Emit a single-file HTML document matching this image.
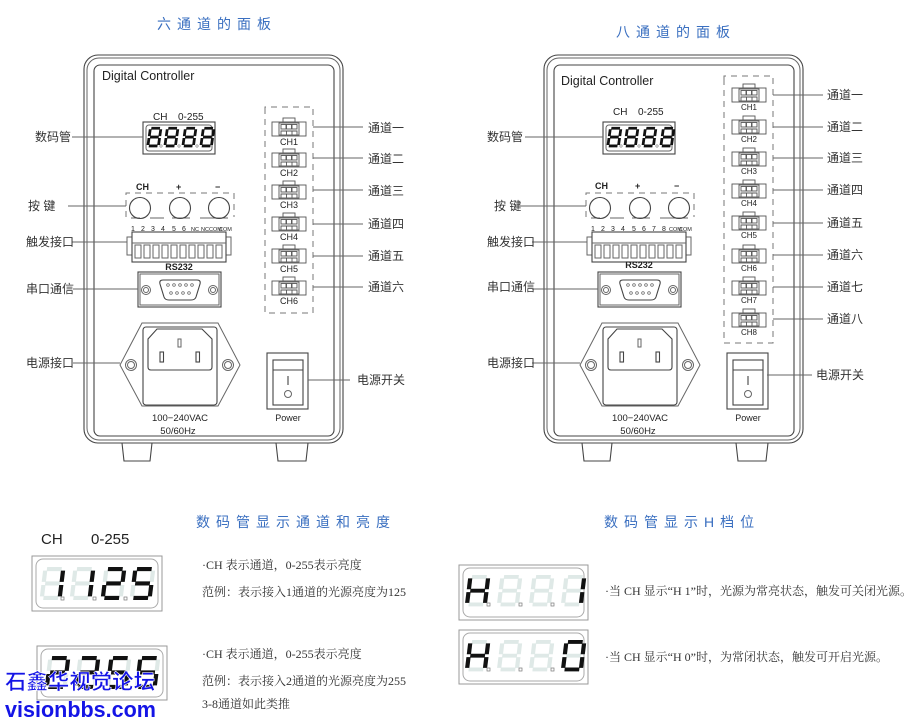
<!DOCTYPE html>
<html><head><meta charset="utf-8"><style>
html,body{margin:0;padding:0;background:#fff;}
svg{display:block;}
.ln{fill:none;stroke:#444;stroke-width:1.1}
.lt{fill:none;stroke:#666;stroke-width:1}
.dash{fill:none;stroke:#777;stroke-width:1;stroke-dasharray:6 5}
.t{font-family:"Liberation Sans","Noto Sans CJK SC",sans-serif;fill:#222}
.cn{font-family:"Liberation Sans","Noto Sans CJK SC",sans-serif;fill:#333;font-size:12px}
.sf{font-family:"Liberation Serif","Noto Serif CJK SC",serif;fill:#333;font-size:12px}
.ttl{font-family:"Liberation Sans","Noto Sans CJK SC",sans-serif;fill:#3a6fc0;font-size:14px;letter-spacing:6px}
.sg{fill:none;stroke-width:4;stroke-linecap:butt}
</style></head><body>
<svg width="922" height="721" viewBox="0 0 922 721" xmlns="http://www.w3.org/2000/svg">
<defs>
 <path id="sa" d="M4 2H18"/><path id="sb" d="M19.5 3.5V14.5"/><path id="sc" d="M19.5 17.5V28.5"/>
 <path id="sd" d="M4 30H18"/><path id="se" d="M2.5 17.5V28.5"/><path id="sf" d="M2.5 3.5V14.5"/><path id="sg" d="M4 16H18"/>
 <g id="d8"><use href="#sa"/><use href="#sb"/><use href="#sc"/><use href="#sd"/><use href="#se"/><use href="#sf"/><use href="#sg"/></g>
 <g id="conn" fill="#fff" stroke="#555" stroke-width="0.9">
  <rect x="-6" y="-4" width="12" height="4"/><rect x="-17" y="0" width="34" height="14"/>
  <rect x="-10" y="1" width="20" height="12"/>
  <rect x="-8" y="2.5" width="5" height="4.5"/><rect x="-2.5" y="2.5" width="5" height="4.5"/><rect x="3" y="2.5" width="5" height="4.5"/>
  <path d="M-8 12.5V9H8V12.5M-2.5 9V12.5M3 9V12.5"/>
 </g>
 <g id="panel">
  <rect x="84" y="55" width="259" height="388" rx="14" class="ln"/>
  <rect x="87" y="58" width="253" height="382" rx="12" class="lt"/>
  <rect x="94" y="65" width="240" height="371" rx="6" class="ln"/>
  <path d="M122 443L124 461H150L152 443M276 443L278 461H306L308 443" class="ln"/>
  <!-- display -->
  <rect x="143" y="122" width="72" height="32" class="ln"/>
  <rect x="146" y="125" width="66" height="26" rx="3" class="lt"/>
  <g stroke="#111" class="sg" style="stroke-width:4.5">
   <use href="#d8" transform="translate(149,127) skewX(-8) scale(0.62,0.63)"/>
   <use href="#d8" transform="translate(166,127) skewX(-8) scale(0.62,0.63)"/>
   <use href="#d8" transform="translate(184,127) skewX(-8) scale(0.62,0.63)"/>
   <use href="#d8" transform="translate(202,127) skewX(-8) scale(0.62,0.63)"/>
  </g>
  <g fill="none" stroke="#777" stroke-width="0.6"><circle cx="161" cy="146" r="1.2"/><circle cx="179" cy="146" r="1.2"/><circle cx="197" cy="146" r="1.2"/></g>
  <!-- buttons -->
  <path d="M126 217V193H234V217" class="dash"/>
  <path d="M131 218H140M150 218H164M172 218H190M200 218H228" class="lt"/>
  <circle cx="140" cy="208" r="10.5" class="ln"/><circle cx="180" cy="208" r="10.5" class="ln"/><circle cx="219" cy="208" r="10.5" class="ln"/>
  <!-- terminal -->
  <rect x="127" y="237" width="5" height="18" class="lt"/><rect x="226" y="237" width="5" height="18" class="lt"/>
  <rect x="132" y="232" width="94" height="30" class="ln"/>
  <path d="M132 243H226" class="lt"/>
  <g class="lt">
   <rect x="135" y="245" width="6" height="13"/><rect x="144" y="245" width="6" height="13"/><rect x="153" y="245" width="6" height="13"/><rect x="162" y="245" width="6" height="13"/><rect x="171" y="245" width="6" height="13"/><rect x="180" y="245" width="6" height="13"/><rect x="189" y="245" width="6" height="13"/><rect x="198" y="245" width="6" height="13"/><rect x="207" y="245" width="6" height="13"/><rect x="216" y="245" width="6" height="13"/>
  </g>
  <!-- DB9 -->
  <rect x="138" y="272" width="83" height="35" class="ln"/>
  <rect x="140" y="274" width="79" height="31" class="lt"/>
  <circle cx="146" cy="290" r="4.5" class="lt"/><circle cx="146" cy="290" r="2.5" class="lt"/>
  <circle cx="213" cy="290" r="4.5" class="lt"/><circle cx="213" cy="290" r="2.5" class="lt"/>
  <path d="M163 280H197Q201 280 200 284L196 297Q195 300 191 300H169Q165 300 164 297L160 284Q159 280 163 280Z" class="ln"/>
  <g fill="none" stroke="#555" stroke-width="0.7"><circle cx="168" cy="285" r="1.3"/><circle cx="174" cy="285" r="1.3"/><circle cx="180" cy="285" r="1.3"/><circle cx="186" cy="285" r="1.3"/><circle cx="192" cy="285" r="1.3"/><circle cx="171" cy="293" r="1.3"/><circle cx="177" cy="293" r="1.3"/><circle cx="183" cy="293" r="1.3"/><circle cx="189" cy="293" r="1.3"/></g>
  <!-- inlet -->
  <path d="M142 323H218L240 365L218 406H142L120 365Z" class="lt"/>
  <rect x="143" y="327" width="74" height="78" rx="3" class="ln"/>
  <path d="M157 329H202L212 339V367Q212 370 209 370H151Q148 370 148 367V339Z" class="ln"/>
  <rect x="178" y="339" width="3" height="8" class="lt"/><rect x="160" y="352" width="3.5" height="10" class="ln"/><rect x="196" y="352" width="3.5" height="10" class="ln"/>
  <circle cx="131" cy="365" r="5.5" class="lt"/><circle cx="131" cy="365" r="3.5" class="lt"/>
  <circle cx="228" cy="365" r="5.5" class="lt"/><circle cx="228" cy="365" r="3.5" class="lt"/>
  <!-- switch -->
  <rect x="267" y="353" width="41" height="56" class="ln"/>
  <rect x="273" y="360" width="30" height="45" class="ln"/>
  <path d="M273 370H303M288 376V385" class="ln"/>
  <circle cx="288" cy="394" r="3.5" class="lt"/>
 </g>
</defs>

<!-- titles -->
<text x="157" y="29" class="ttl">六通道的面板</text>
<text x="616" y="37" class="ttl">八通道的面板</text>

<!-- LEFT PANEL -->
<use href="#panel"/>
<text x="102" y="80" class="t" font-size="12.5">Digital Controller</text>
<text x="153" y="120" class="t" font-size="10">CH</text><text x="178" y="120" class="t" font-size="10">0-255</text>
<g class="t" font-size="9" font-weight="bold"><text x="136" y="190">CH</text><text x="176" y="190">+</text><text x="215" y="190">−</text></g>
<g class="t" font-size="7"><text x="131" y="231">1</text><text x="141" y="231">2</text><text x="151" y="231">3</text><text x="161" y="231">4</text><text x="172" y="231">5</text><text x="182" y="231">6</text><text x="191" y="231" font-size="5.5">NC</text><text x="201" y="231" font-size="5.5">NC</text><text x="209" y="231" font-size="5.5">COM</text><text x="219" y="231" font-size="5.5">COM</text></g>
<text x="179" y="270" class="t" font-size="9" font-weight="bold" text-anchor="middle">RS232</text>
<text x="180" y="421" class="t" font-size="9.5" text-anchor="middle">100−240VAC</text>
<text x="178" y="434" class="t" font-size="9.5" text-anchor="middle">50/60Hz</text>
<text x="288" y="421" class="t" font-size="9" text-anchor="middle">Power</text>
<path d="M265 112V107H313V313H265V112" class="dash"/>
<use href="#conn" x="289" y="122"/><use href="#conn" x="289" y="153"/><use href="#conn" x="289" y="185"/><use href="#conn" x="289" y="217"/><use href="#conn" x="289" y="249"/><use href="#conn" x="289" y="281"/>
<g class="t" font-size="9" text-anchor="middle"><text x="289" y="145">CH1</text><text x="289" y="176">CH2</text><text x="289" y="208">CH3</text><text x="289" y="240">CH4</text><text x="289" y="272">CH5</text><text x="289" y="304">CH6</text></g>
<g class="lt"><path d="M313 127H363M313 158H363M313 190H363M313 224H363M313 256H363M313 287H363M308 380H350"/>
<path d="M72 137H143M68 206H126M72 242H127M73 289H138M73 363H120"/></g>
<g class="cn"><text x="368" y="132">通道一</text><text x="368" y="163">通道二</text><text x="368" y="195">通道三</text><text x="368" y="228">通道四</text><text x="368" y="260">通道五</text><text x="368" y="291">通道六</text><text x="357" y="384">电源开关</text>
<text x="35" y="141">数码管</text><text x="28" y="210">按  键</text><text x="26" y="246">触发接口</text><text x="26" y="293">串口通信</text><text x="26" y="367">电源接口</text></g>

<!-- RIGHT PANEL -->
<use href="#panel" x="460"/>
<text x="561" y="85" class="t" font-size="12.5">Digital Controller</text>
<text x="613" y="115" class="t" font-size="10">CH</text><text x="638" y="115" class="t" font-size="10">0-255</text>
<g class="t" font-size="9" font-weight="bold"><text x="595" y="189">CH</text><text x="635" y="189">+</text><text x="674" y="189">−</text></g>
<g class="t" font-size="7"><text x="591" y="231">1</text><text x="601" y="231">2</text><text x="611" y="231">3</text><text x="621" y="231">4</text><text x="632" y="231">5</text><text x="642" y="231">6</text><text x="652" y="231">7</text><text x="662" y="231">8</text><text x="669" y="231" font-size="5.5">COM</text><text x="679" y="231" font-size="5.5">COM</text></g>
<text x="639" y="268" class="t" font-size="9" font-weight="bold" text-anchor="middle">RS232</text>
<text x="640" y="421" class="t" font-size="9.5" text-anchor="middle">100−240VAC</text>
<text x="638" y="434" class="t" font-size="9.5" text-anchor="middle">50/60Hz</text>
<text x="748" y="421" class="t" font-size="9" text-anchor="middle">Power</text>
<path d="M724 80V76H773V343H724V80" class="dash"/>
<use href="#conn" x="749" y="88"/><use href="#conn" x="749" y="120"/><use href="#conn" x="749" y="152"/><use href="#conn" x="749" y="184"/><use href="#conn" x="749" y="216"/><use href="#conn" x="749" y="249"/><use href="#conn" x="749" y="281"/><use href="#conn" x="749" y="313"/>
<g class="t" font-size="8" text-anchor="middle"><text x="749" y="110">CH1</text><text x="749" y="142">CH2</text><text x="749" y="174">CH3</text><text x="749" y="206">CH4</text><text x="749" y="238">CH5</text><text x="749" y="271">CH6</text><text x="749" y="303">CH7</text><text x="749" y="335">CH8</text></g>
<g class="lt"><path d="M773 95H823M773 127H823M773 158H823M773 190H823M773 223H823M773 255H823M773 287H823M773 319H823M767 375H812"/>
<path d="M525 137H603M514 206H586M532 242H587M532 289H598M532 363H580"/></g>
<g class="cn"><text x="827" y="99">通道一</text><text x="827" y="131">通道二</text><text x="827" y="162">通道三</text><text x="827" y="194">通道四</text><text x="827" y="227">通道五</text><text x="827" y="259">通道六</text><text x="827" y="291">通道七</text><text x="827" y="323">通道八</text><text x="816" y="379">电源开关</text>
<text x="487" y="141">数码管</text><text x="494" y="210">按  键</text><text x="487" y="246">触发接口</text><text x="487" y="291">串口通信</text><text x="487" y="367">电源接口</text></g>

<!-- BOTTOM LEFT -->
<text x="196" y="527" class="ttl">数码管显示通道和亮度</text>
<text x="41" y="544" class="t" font-size="15">CH</text><text x="91" y="544" class="t" font-size="15">0-255</text>
<rect x="32" y="556" width="130" height="55" fill="none" stroke="#999" stroke-width="1"/>
<rect x="36" y="559" width="122" height="49" rx="7" fill="none" stroke="#aaa" stroke-width="1"/>
<g class="sg" stroke="#dfe9e7"><use href="#d8" transform="translate(43,567) skewX(-7) scale(1.05,1.03)"/><use href="#d8" transform="translate(73,567) skewX(-7) scale(1.05,1.03)"/><use href="#d8" transform="translate(104,567) skewX(-7) scale(1.05,1.03)"/><use href="#d8" transform="translate(133,567) skewX(-7) scale(1.05,1.03)"/></g>
<g class="sg" stroke="#111"><g transform="translate(43,567) skewX(-7) scale(1.05,1.03)"><use href="#sb"/><use href="#sc"/></g>
<g transform="translate(73,567) skewX(-7) scale(1.05,1.03)"><use href="#sb"/><use href="#sc"/></g>
<g transform="translate(104,567) skewX(-7) scale(1.05,1.03)"><use href="#sa"/><use href="#sb"/><use href="#sg"/><use href="#se"/><use href="#sd"/></g>
<g transform="translate(133,567) skewX(-7) scale(1.05,1.03)"><use href="#sa"/><use href="#sf"/><use href="#sg"/><use href="#sc"/><use href="#sd"/></g></g>
<g fill="none" stroke="#777" stroke-width="0.7"><rect x="61" y="597" width="3" height="3"/><rect x="93" y="597" width="3" height="3"/><rect x="124" y="597" width="3" height="3"/></g>

<rect x="37" y="646" width="130" height="54" fill="none" stroke="#999" stroke-width="1"/>
<rect x="41" y="649" width="122" height="48" rx="7" fill="none" stroke="#aaa" stroke-width="1"/>
<g class="sg" stroke="#dfe9e7"><use href="#d8" transform="translate(48,656) skewX(-7) scale(1.05,1.03)"/><use href="#d8" transform="translate(78,656) skewX(-7) scale(1.05,1.03)"/><use href="#d8" transform="translate(109,656) skewX(-7) scale(1.05,1.03)"/><use href="#d8" transform="translate(138,656) skewX(-7) scale(1.05,1.03)"/></g>
<g class="sg" stroke="#111"><g transform="translate(48,656) skewX(-7) scale(1.05,1.03)"><use href="#sa"/><use href="#sb"/><use href="#sg"/><use href="#se"/><use href="#sd"/></g>
<g transform="translate(78,656) skewX(-7) scale(1.05,1.03)"><use href="#sa"/><use href="#sb"/><use href="#sg"/><use href="#se"/><use href="#sd"/></g>
<g transform="translate(109,656) skewX(-7) scale(1.05,1.03)"><use href="#sa"/><use href="#sf"/><use href="#sg"/><use href="#sc"/><use href="#sd"/></g>
<g transform="translate(138,656) skewX(-7) scale(1.05,1.03)"><use href="#sa"/><use href="#sf"/><use href="#sg"/><use href="#sc"/><use href="#sd"/></g></g>

<text x="202" y="569" class="sf">·CH 表示通道，0-255表示亮度</text>
<text x="202" y="596" class="sf">范例：表示接入1通道的光源亮度为125</text>
<text x="202" y="658" class="sf">·CH 表示通道，0-255表示亮度</text>
<text x="202" y="685" class="sf">范例：表示接入2通道的光源亮度为255</text>
<text x="202" y="708" class="sf">3-8通道如此类推</text>

<!-- BOTTOM RIGHT -->
<text x="604" y="527" class="ttl">数码管显示H档位</text>
<rect x="459" y="565" width="129" height="55" fill="none" stroke="#999" stroke-width="1"/>
<rect x="463" y="568" width="121" height="49" rx="7" fill="none" stroke="#aaa" stroke-width="1"/>
<g class="sg" stroke="#dfe9e7"><use href="#d8" transform="translate(468,575) skewX(-7) scale(1.05,0.98)"/><use href="#d8" transform="translate(500,575) skewX(-7) scale(1.05,0.98)"/><use href="#d8" transform="translate(532,575) skewX(-7) scale(1.05,0.98)"/><use href="#d8" transform="translate(564,575) skewX(-7) scale(1.05,0.98)"/></g>
<g class="sg" stroke="#111"><g transform="translate(468,575) skewX(-7) scale(1.05,0.98)"><use href="#sf"/><use href="#se"/><use href="#sb"/><use href="#sc"/><use href="#sg"/></g>
<g transform="translate(564,575) skewX(-7) scale(1.05,0.98)"><use href="#sb"/><use href="#sc"/></g></g>
<g fill="none" stroke="#777" stroke-width="0.7"><rect x="487" y="603" width="3" height="3"/><rect x="519" y="603" width="3" height="3"/><rect x="551" y="603" width="3" height="3"/></g>

<rect x="459" y="630" width="129" height="54" fill="none" stroke="#999" stroke-width="1"/>
<rect x="463" y="633" width="121" height="48" rx="7" fill="none" stroke="#aaa" stroke-width="1"/>
<g class="sg" stroke="#dfe9e7"><use href="#d8" transform="translate(468,640) skewX(-7) scale(1.05,0.98)"/><use href="#d8" transform="translate(500,640) skewX(-7) scale(1.05,0.98)"/><use href="#d8" transform="translate(532,640) skewX(-7) scale(1.05,0.98)"/><use href="#d8" transform="translate(564,640) skewX(-7) scale(1.05,0.98)"/></g>
<g class="sg" stroke="#111"><g transform="translate(468,640) skewX(-7) scale(1.05,0.98)"><use href="#sf"/><use href="#se"/><use href="#sb"/><use href="#sc"/><use href="#sg"/></g>
<g transform="translate(564,640) skewX(-7) scale(1.05,0.98)"><use href="#sa"/><use href="#sb"/><use href="#sc"/><use href="#sd"/><use href="#se"/><use href="#sf"/></g></g>
<g fill="none" stroke="#777" stroke-width="0.7"><rect x="487" y="668" width="3" height="3"/><rect x="519" y="668" width="3" height="3"/><rect x="551" y="668" width="3" height="3"/></g>

<text x="605" y="595" class="sf" font-size="11.5">·当 CH 显示“H 1”时，光源为常亮状态，触发可关闭光源。</text>
<text x="605" y="661" class="sf" font-size="11.5">·当 CH 显示“H 0”时，为常闭状态，触发可开启光源。</text>

<!-- watermark -->
<text x="5" y="689" font-family="'Liberation Sans','Noto Sans CJK SC',sans-serif" font-weight="bold" font-size="21" fill="#1414e6" stroke="#fff" stroke-width="0.6" textLength="150" lengthAdjust="spacingAndGlyphs">石鑫华视觉论坛</text>
<text x="5" y="717" font-family="'Liberation Sans',sans-serif" font-weight="bold" font-size="22" fill="#1414e6" textLength="151" lengthAdjust="spacingAndGlyphs">visionbbs.com</text>
</svg>
</body></html>
